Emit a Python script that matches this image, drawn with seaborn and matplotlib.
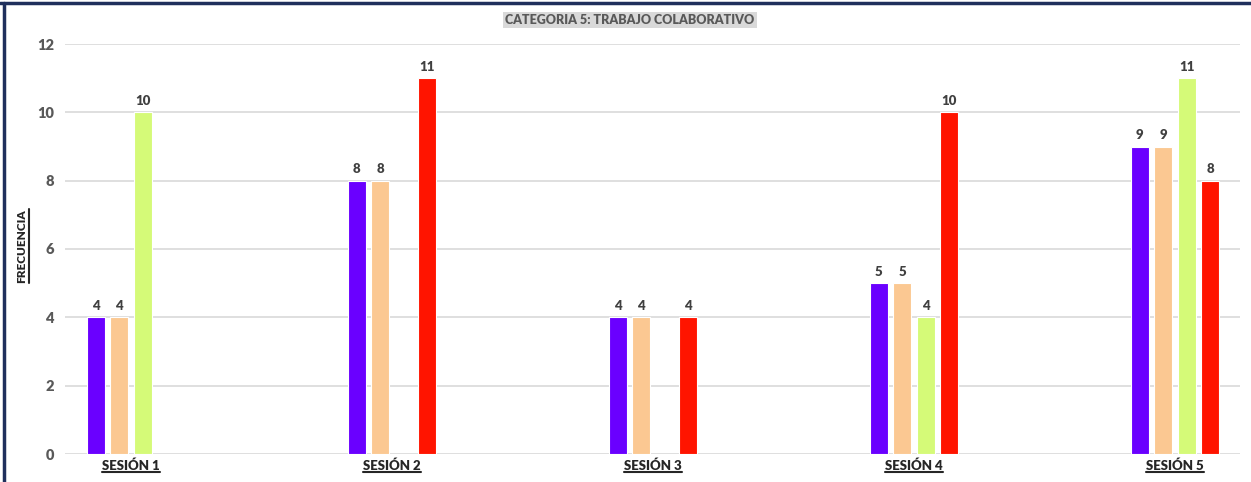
import matplotlib
matplotlib.use("Agg")
import matplotlib.pyplot as plt
from matplotlib.lines import Line2D
import seaborn as sns
import pandas as pd
import numpy as np

# --- data ---
sessions = ["SESIÓN 1", "SESIÓN 2", "SESIÓN 3", "SESIÓN 4", "SESIÓN 5"]
series_names = ["Serie 1", "Serie 2", "Serie 3", "Serie 4"]
serie_1 = [4, 8, 4, 5, 9]
serie_2 = [4, 8, 4, 5, 9]
serie_3 = [10, np.nan, np.nan, 4, 11]
serie_4 = [np.nan, 11, 4, 10, 8]
colors = ["#6a00ff", "#fbc892", "#d5fa78", "#ff1400"]

rows = []
for name, vals in zip(series_names, [serie_1, serie_2, serie_3, serie_4]):
    for s, v in zip(sessions, vals):
        rows.append({"sesion": s, "serie": name, "valor": v})
df = pd.DataFrame(rows)

sns.set_theme(style="white")
plt.rcParams["font.family"] = ["Lato", "DejaVu Sans"]

W, H = 1251, 482
fig = plt.figure(figsize=(W / 100, H / 100), dpi=100)
ax = fig.add_axes([65 / W, (H - 454) / H, (1240 - 65) / W, (454 - 44) / H])

sns.barplot(data=df, x="sesion", y="valor", hue="serie", order=sessions,
            hue_order=series_names, palette=colors, saturation=1,
            width=0.36, gap=0.23, linewidth=0.8, ax=ax, legend=False)

for p in ax.patches:
    h = p.get_height()
    if np.isfinite(h) and h > 0:
        ax.annotate(f"{h:.0f}", (p.get_x() + p.get_width() / 2, h),
                    xytext=(0, 4), textcoords="offset points",
                    ha="center", va="bottom", fontsize=9.5,
                    fontweight="heavy", color="#404040")

ax.set_xlim(-0.253, 4.249)
ax.set_ylim(0, 12)
ax.set_yticks(range(0, 13, 2))
ax.yaxis.grid(True, color="#d9d9d9", linewidth=1.2)
ax.set_axisbelow(True)
for sp in ax.spines.values():
    sp.set_visible(False)
ax.tick_params(axis="y", length=0, pad=8, labelsize=10.5, labelcolor="#595959")
ax.tick_params(axis="x", length=0, pad=4, labelsize=9.5, labelcolor="#262626")
for t in ax.get_yticklabels() + ax.get_xticklabels():
    t.set_fontweight("heavy")
ax.set_xlabel("")
ax.set_ylabel("")

title = fig.text(630 / W, 1 - 20 / H, "CATEGORIA 5: TRABAJO COLABORATIVO",
                 ha="center", va="center", fontsize=9, fontweight="heavy",
                 color="#595959",
                 bbox=dict(facecolor="#d9d9d9", edgecolor="none", pad=1.5))
ylab = fig.text(22 / W, 1 - 246 / H, "FRECUENCIA", rotation=90,
                ha="center", va="center", fontsize=8.5, fontweight="heavy",
                color="#262626")

# underline helper
fig.canvas.draw()
renderer = fig.canvas.get_renderer()

def underline(txt, color, vertical=False):
    bb = txt.get_window_extent(renderer)
    if vertical:
        x = (bb.x1 + 1) / W
        fig.add_artist(Line2D([x, x], [bb.y0 / H, bb.y1 / H], color=color,
                              linewidth=1.5, transform=fig.transFigure))
    else:
        y = (bb.y0 + 0.5) / H
        fig.add_artist(Line2D([bb.x0 / W, bb.x1 / W], [y, y], color=color,
                              linewidth=1.5, transform=fig.transFigure))

underline(title, "#595959")
underline(ylab, "#262626", vertical=True)
for t in ax.get_xticklabels():
    underline(t, "#262626")

# frame (top and left edges visible in the crop)
fig.add_artist(Line2D([0, 1], [1 - 3 / H, 1 - 3 / H], color="#1f2f5c",
                      linewidth=2.5, transform=fig.transFigure))
fig.add_artist(Line2D([4 / W, 4 / W], [0, 1 - 3 / H], color="#1f2f5c",
                      linewidth=2.5, transform=fig.transFigure))

fig.savefig("out.png", dpi=100)
